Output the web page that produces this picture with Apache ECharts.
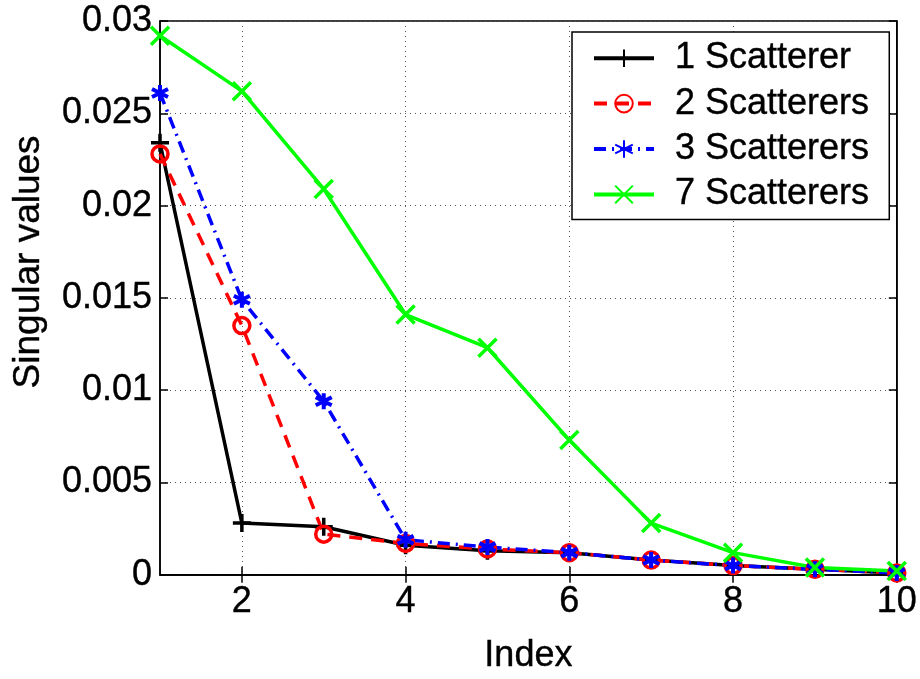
<!DOCTYPE html>
<html>
<head>
<meta charset="utf-8">
<script src="https://cdn.jsdelivr.net/npm/echarts@6/dist/echarts.min.js"></script>
<style>html,body{margin:0;padding:0;background:#fff}#c{width:920px;height:679px}</style>
</head>
<body>
<div id="c"></div>
<script>
const indices = [1,2,3,4,5,6,7,8,9,10];
const s1 = [0.0234,0.0028,0.0026,0.0016,0.0013,0.0012,0.0008,0.0005,0.0003,0.0001];
const s2 = [0.0228,0.0135,0.0022,0.0017,0.0014,0.0012,0.0008,0.0005,0.0003,0.0001];
const s3 = [0.0261,0.0149,0.0094,0.0019,0.0015,0.0012,0.0008,0.0005,0.0003,0.0001];
const s7 = [0.0292,0.0262,0.0209,0.0141,0.0123,0.0073,0.0028,0.0012,0.0004,0.0002];
const seriesNames = ['1 Scatterer','2 Scatterers','3 Scatterers','7 Scatterers'];
const xTicks = [2,4,6,8,10];

const FONT = '"Liberation Sans", Arial, Helvetica, sans-serif';
const FS = 36;
const txt = {fontFamily:FONT, fontSize:FS, color:'#000', textBorderColor:'#000', textBorderWidth:0.4};
const pts = arr => arr.map((v,i)=>[indices[i], v]);
const PLUS = 'path://M0,-1L0,1M-1,0L1,0';
const STAR = 'path://M0,-1L0,1M-0.866,-0.5L0.866,0.5M-0.866,0.5L0.866,-0.5';
const CROSS = 'path://M-1,-1L1,1M-1,1L1,-1';

const chart = echarts.init(document.getElementById('c'), null, {renderer:'canvas'});
const gridLine = {show:true, lineStyle:{color:'#555', type:[1,4], width:1}};
const axLine = {show:true, lineStyle:{color:'#000', width:1.5}};
const axTick = {show:true, inside:true, length:8, lineStyle:{color:'#000', width:1.5}};
chart.setOption({
  animation:false,
  backgroundColor:'#fff',
  grid:{left:160, right:23, top:21, bottom:103, show:true, borderColor:'#000', borderWidth:1.5, backgroundColor:'transparent'},
  legend:{
    left:572, top:32, orient:'vertical',
    backgroundColor:'#fff', borderColor:'#000', borderWidth:1.5,
    padding:[8,20,7,20], itemGap:9, itemWidth:60, itemHeight:22,
    lineStyle:{width:4},
    textStyle:Object.assign({}, txt, {padding:[0,0,0,16]}),
    data:seriesNames
  },
  xAxis:[{
    type:'value', min:1, max:10,
    name:'Index', nameLocation:'middle', nameGap:63, nameMoveOverlap:false,
    nameTextStyle:txt,
    axisLine:axLine,
    axisTick:Object.assign({customValues:xTicks}, axTick),
    axisLabel:Object.assign({customValues:xTicks, margin:9}, txt),
    splitLine:gridLine
  },{
    type:'value', min:1, max:10, position:'top',
    axisLine:axLine,
    axisTick:Object.assign({customValues:xTicks}, axTick),
    axisLabel:{show:false}, splitLine:{show:false}
  }],
  yAxis:[{
    type:'value', min:0, max:0.03, interval:0.005,
    name:'Singular values', nameLocation:'middle', nameGap:113, nameRotate:90, nameMoveOverlap:false,
    nameTextStyle:Object.assign({}, txt, {fontSize:37, padding:[0,0,0,72]}),
    axisLine:axLine,
    axisTick:axTick,
    axisLabel:Object.assign({margin:8, formatter:v=>String(+v.toFixed(4))}, txt),
    splitLine:gridLine
  },{
    type:'value', min:0, max:0.03, interval:0.005, position:'right',
    axisLine:axLine,
    axisTick:axTick,
    axisLabel:{show:false}, splitLine:{show:false}
  }],
  series:[
    {name:seriesNames[0], type:'line', data:pts(s1), symbol:PLUS, symbolSize:18,
     lineStyle:{color:'#000', width:3.5}, itemStyle:{color:'#000', borderColor:'#000', borderWidth:3.5}},
    {name:seriesNames[1], type:'line', data:pts(s2), symbol:'circle', symbolSize:16,
     lineStyle:{color:'#ff0000', width:3.5, type:[13,9]}, itemStyle:{color:'rgba(255,0,0,0)', borderColor:'#ff0000', borderWidth:3.5}},
    {name:seriesNames[2], type:'line', data:pts(s3), symbol:STAR, symbolSize:16,
     lineStyle:{color:'#0000ff', width:3.5, type:[12,6,2,6]}, itemStyle:{color:'#0000ff', borderColor:'#0000ff', borderWidth:4}},
    {name:seriesNames[3], type:'line', data:pts(s7), symbol:CROSS, symbolSize:18,
     lineStyle:{color:'#00ff00', width:3.5}, itemStyle:{color:'#00ff00', borderColor:'#00ff00', borderWidth:3.5}}
  ]
});
</script>
</body>
</html>
